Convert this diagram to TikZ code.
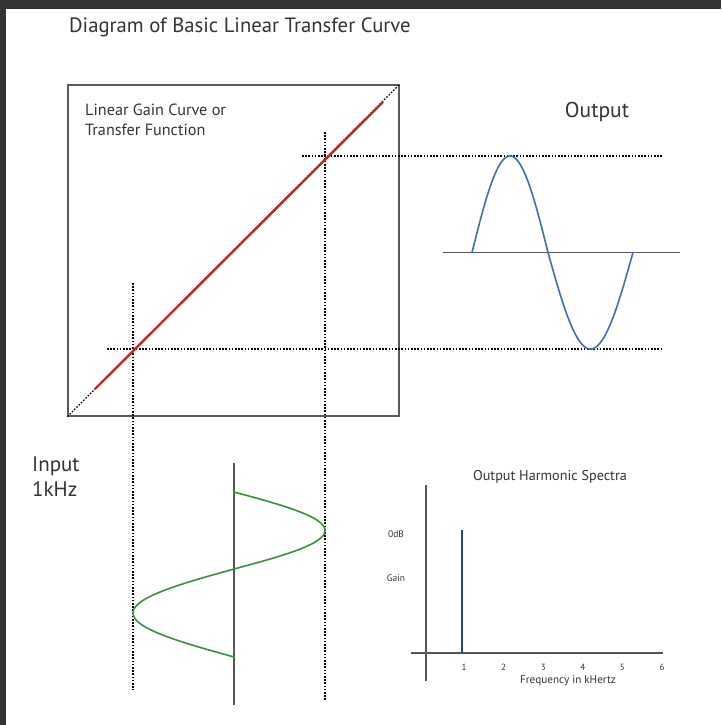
\documentclass[tikz,border=0pt]{standalone}
\usepackage{fontspec}
\setmainfont{PT Sans}
\definecolor{framegray}{HTML}{333333}
\definecolor{boxgray}{HTML}{5A5A5A}
\definecolor{axisgray}{HTML}{555555}
\definecolor{txtgray}{HTML}{333333}
\definecolor{gainred}{HTML}{C0282D}
\definecolor{outblue}{HTML}{3F6FB2}
\definecolor{ingreen}{HTML}{3E8E3E}
\definecolor{barnavy}{HTML}{2B3F8C}
\tikzset{
  dotline/.style={black, line width=1.3pt, dash pattern=on 1.6pt off 1.6pt},
  axisline/.style={axisgray, line width=1.1pt},
  lbl/.style={text=txtgray, inner sep=0pt, font=#1},
  lbl/.default={\fontsize{10}{12}\selectfont},
  wave/.style={line width=1.6pt, line cap=round}
}
\begin{document}
\begin{tikzpicture}[x=1pt,y=-1pt]
\useasboundingbox (0,0) rectangle (721,725);
% dark frame
\fill[framegray] (0,0) rectangle (721,9);
\fill[framegray] (0,0) rectangle (6,725);
% title
\node[lbl={\fontsize{20.7}{24}\selectfont}, anchor=west] (title) at (69,27) {Diagram of Basic Linear Transfer Curve};
% transfer box
\node[draw=boxgray, line width=1.2pt, minimum width=331pt, minimum height=331pt, inner sep=0pt] (box) at (233.5,250.5) {};
\node[lbl={\fontsize{16.2}{20}\selectfont}, anchor=west, align=left] (boxlbl) at (85,120) {Linear Gain Curve or\\Transfer Function};
% intersection points
\coordinate (p1) at (133,349);
\coordinate (p2) at (325,156);
\coordinate (v1top) at (133,283);
\coordinate (v1bot) at (133,690);
\coordinate (v2top) at (325,132);
\coordinate (v2bot) at (325,700);
\coordinate (h1l) at (302,156);
\coordinate (h1r) at (663,156);
\coordinate (h2l) at (107,349);
\coordinate (h2r) at (663,349);
\coordinate (rs) at (95,389);
\coordinate (re) at (383,102);
% dotted guide lines
\draw[dotline] (box.south west) -- (box.north east);
\draw[dotline] (v1top) -- (v1bot);
\draw[dotline] (v2top) -- (v2bot);
\draw[dotline] (h1l) -- (h1r);
\draw[dotline] (h2l) -- (h2r);
% red gain line
\draw[gainred, line width=2.4pt] (rs) -- (re);
% output
\node[lbl={\fontsize{21.5}{24}\selectfont}] (outlbl) at (597,112) {Output};
\coordinate (oal) at (443,252.5);
\coordinate (oar) at (680,252.5);
\draw[axisline] (oal) -- (oar);
\draw[outblue, wave] plot[domain=0:76, samples=60, smooth] ({472+\x},{252.5-96.5*sin(\x*180/76)})
  -- plot[domain=0:85, samples=60, smooth] ({548+\x},{252.5+96.5*sin(\x*180/85)});
% input
\node[lbl={\fontsize{21}{25}\selectfont}, anchor=west, align=left] (inlbl) at (32,477) {Input\\1kHz};
\coordinate (iat) at (234,463);
\coordinate (iab) at (234,705);
\draw[axisline] (iat) -- (iab);
\draw[ingreen, wave] plot[domain=0:77, samples=60, smooth] ({234+91*sin(\x*180/77)},{492+\x})
  -- plot[domain=0:88, samples=60, smooth] ({234-101*sin(\x*180/88)},{569+\x});
% spectrum
\node[lbl={\fontsize{14.2}{16}\selectfont}] (spectitle) at (550,477) {Output Harmonic Spectra};
\coordinate (syt) at (426,485);
\coordinate (syb) at (426,681);
\coordinate (sxl) at (411,653);
\coordinate (sxr) at (663,653);
\draw[axisline] (syt) -- (syb);
\draw[axisline] (sxl) -- (sxr);
\coordinate (bart) at (462,530);
\coordinate (barb) at (462,653);
\draw[barnavy, line width=1.6pt] (bart) -- (barb);
\node[lbl={\fontsize{9.5}{11}\selectfont}] (db) at (396,534) {0dB};
\node[lbl={\fontsize{9.5}{11}\selectfont}] (gain) at (396,578) {Gain};
\foreach \k in {1,...,6} {
  \node[lbl={\fontsize{9}{11}\selectfont}] (tick\k) at ({464+39.6*(\k-1)},667) {\k};
}
\node[lbl={\fontsize{11.2}{12}\selectfont}] (freq) at (568,681) {Frequency in kHertz};
\end{tikzpicture}
\end{document}
